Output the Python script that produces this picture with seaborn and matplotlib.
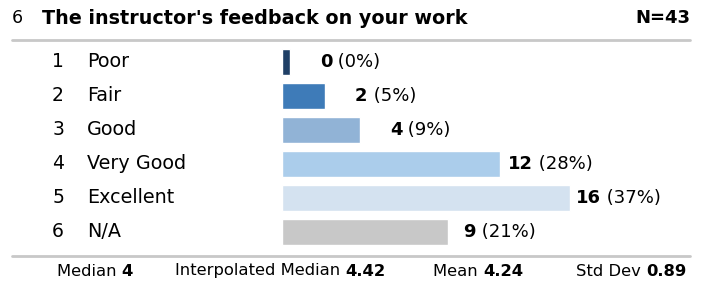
import seaborn as sns
import matplotlib.pyplot as plt
import matplotlib.transforms as mtransforms

sns.set_style("white")
plt.rcParams['font.family'] = ['DejaVu Sans']
plt.rcParams['text.color'] = 'black'

question_no = "6"
question = "The instructor's feedback on your work"
n_total = 43
codes = ["1", "2", "3", "4", "5", "6"]
labels = ["Poor", "Fair", "Good", "Very Good", "Excellent", "N/A"]
counts = [0, 2, 4, 12, 16, 9]
colors = ["#1f3f66", "#3e7bb8", "#91b3d6", "#abcdeb", "#d4e2f0", "#c8c8c8"]
stats = [("Median", "4"), ("Interpolated Median", "4.42"), ("Mean", "4.24"), ("Std Dev", "0.89")]

W, H = 706, 286
fig = plt.figure(figsize=(W / 100, H / 100), dpi=100)

# bars area: x from 282px, 17.5 px per response, small stub so 0 still shows
px_per = 17.5
stub = 8 / px_per
ax = fig.add_axes([282 / W, 1 - 249 / H, 408 / W, 204 / H])
plot_vals = [c + stub for c in counts]
sns.barplot(x=plot_vals, y=labels, hue=labels, palette=colors, legend=False,
            width=0.76, orient="h", saturation=1, ax=ax)
ax.set_xlim(0, 408 / px_per)
ax.set_ylim(5.5, -0.5)
ax.axis("off")

ytrans = mtransforms.blended_transform_factory(fig.transFigure, ax.transData)
for i, (code, lab, c) in enumerate(zip(codes, labels, counts)):
    ax.text(58 / W, i, code, transform=ytrans, ha="center", va="center", fontsize=13.5)
    ax.text(87 / W, i, lab, transform=ytrans, ha="left", va="center", fontsize=13.8)
    w = (c + stub) * px_per
    gap = min(30, max(6, 30 - (w - 78) * 0.16))
    t = ax.annotate(str(c), xy=(c + stub, i), xytext=(gap * 0.72, 0),
                    textcoords="offset points", ha="left", va="center",
                    fontsize=13, fontweight="bold")
    pct = round(100 * c / n_total)
    ax.annotate(f" ({pct}%)", xy=(1, 0.5), xycoords=t, ha="left", va="center",
                fontsize=13)

# header
fig.text(12 / W, 1 - 18 / H, question_no, ha="left", va="center", fontsize=12.5)
fig.text(42 / W, 1 - 18 / H, question, ha="left", va="center", fontsize=13.8,
         fontweight="bold")
fig.text(690 / W, 1 - 18 / H, f"N={n_total}", ha="right", va="center", fontsize=13,
         fontweight="bold")

# separator lines
for yy in (40, 256):
    fig.add_artist(plt.Line2D([12 / W, 690 / W], [1 - yy / H, 1 - yy / H],
                              color="#c8c8c8", lw=2))

# footer stats
starts = [57, 175, 433, 576]
for x0, (name, val) in zip(starts, stats):
    t = fig.text(x0 / W, 1 - 271 / H, name + " ", ha="left", va="center", fontsize=11.8)
    fig.add_artist(plt.Annotation(val, xy=(1, 0.5), xycoords=t, ha="left", va="center",
                                  fontsize=11.8, fontweight="bold", annotation_clip=False))

fig.savefig("out.png", dpi=100)
